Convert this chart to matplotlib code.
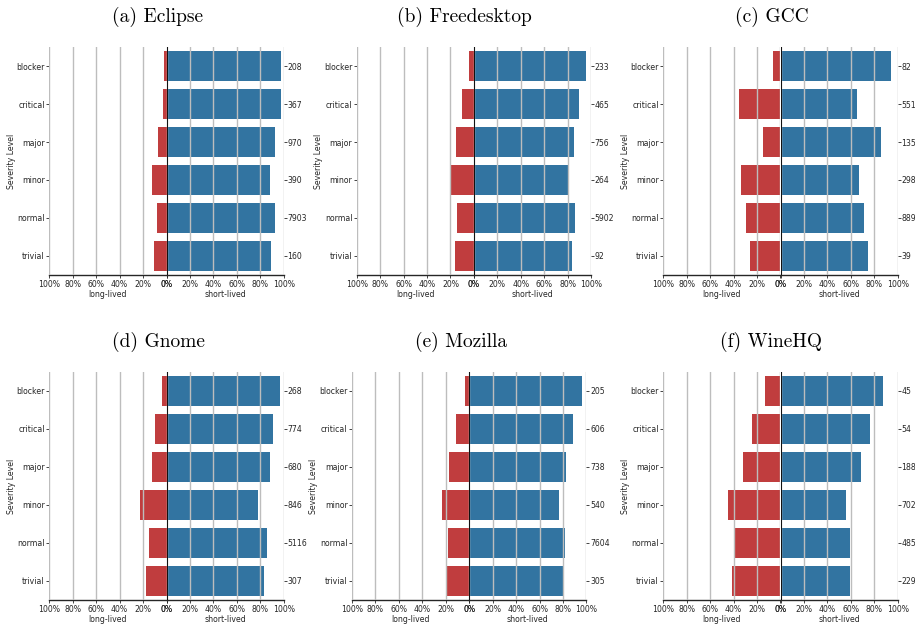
import matplotlib
matplotlib.use("Agg")
import matplotlib.pyplot as plt
from matplotlib.ticker import FuncFormatter

# Severity levels, top to bottom
levels = ["blocker", "critical", "major", "minor", "normal", "trivial"]

titles = ["(a) Eclipse", "(b) Freedesktop", "(c) GCC",
          "(d) Gnome", "(e) Mozilla", "(f) WineHQ"]

# Share of short-lived bugs per severity level (%)
short_eclipse = [98, 97.5, 92.5, 88.5, 92.5, 89]
short_freedesktop = [96, 90, 85, 80, 86.5, 84]
short_gcc = [94.5, 65.5, 86, 67, 71.5, 74.5]
short_gnome = [97, 91, 88.5, 78, 86, 83.5]
short_mozilla = [96, 88.5, 82.5, 76.5, 81.5, 80]
short_winehq = [87.5, 76.5, 69, 56, 59.5, 59.5]

# Share of long-lived bugs per severity level (%)
long_eclipse = [2, 2.8, 7, 12, 8, 11]
long_freedesktop = [4.5, 10.5, 15.5, 19.5, 14, 16.5]
long_gcc = [6.3, 35.3, 14.8, 33.5, 29.5, 26]
long_gnome = [3.7, 9.8, 12.2, 22.5, 14.8, 17.3]
long_mozilla = [3.7, 11.5, 17.5, 23.5, 18.5, 19.8]
long_winehq = [13, 24, 32, 44.5, 40, 41.5]

# Number of bugs per severity level
counts_eclipse = ["208", "367", "970", "390", "7903", "160"]
counts_freedesktop = ["233", "465", "756", "264", "5902", "92"]
counts_gcc = ["82", "551", "135", "298", "889", "39"]
counts_gnome = ["268", "774", "680", "846", "5116", "307"]
counts_mozilla = ["205", "606", "738", "540", "7604", "305"]
counts_winehq = ["45", "54", "188", "702", "485", "229"]

short_all = [short_eclipse, short_freedesktop, short_gcc,
             short_gnome, short_mozilla, short_winehq]
long_all = [long_eclipse, long_freedesktop, long_gcc,
            long_gnome, long_mozilla, long_winehq]
counts_all = [counts_eclipse, counts_freedesktop, counts_gcc,
              counts_gnome, counts_mozilla, counts_winehq]

BLUE = "#3274a1"
RED = "#c03d3e"
GRID = "#bdbdbd"
FS = 5.6
W, H = 915, 625

fig = plt.figure(figsize=(W / 100, H / 100), dpi=100)
plt.rcParams["font.family"] = ["DejaVu Sans"]

# panel geometry in pixels: (left edge, top edge)
panel_left = [49.3, 356.7, 663.3, 49.3, 352.0, 663.3]
panel_top = [47, 47, 47, 372, 372, 372]
panel_w = 234.4
panel_h = 228
title_x = [158, 464.7, 772, 158.3, 461, 771.5]
title_y = [17, 17, 17, 342, 342, 342]

pct = FuncFormatter(lambda v, p: f"{int(round(v))}%")
ticks = [0, 20, 40, 60, 80, 100]
ypos = list(range(len(levels)))


def style_axis(ax):
    for s in ("top", "left", "right"):
        ax.spines[s].set_visible(False)
    ax.spines["bottom"].set_color("#262626")
    ax.spines["bottom"].set_linewidth(1.0)
    ax.set_xticks(ticks)
    ax.xaxis.set_major_formatter(pct)
    ax.tick_params(axis="x", labelsize=FS, length=2, width=0.6, pad=1.5,
                   colors="#262626")
    ax.tick_params(axis="y", labelsize=FS, length=2, width=0.6, pad=1.2,
                   colors="#262626")
    for t in ticks:
        ax.axvline(t, color=GRID, lw=1.0, zorder=3)
    ax.set_ylim(len(levels) - 0.5, -0.5)
    ax.set_facecolor("none")


for i in range(6):
    left_px = panel_left[i]
    top_px = panel_top[i]
    half = panel_w / 2
    b = 1 - (top_px + panel_h) / H
    h = panel_h / H
    axl = fig.add_axes([left_px / W, b, half / W, h])
    axr = fig.add_axes([(left_px + half) / W, b, half / W, h])

    axl.barh(ypos, long_all[i], height=0.8, color=RED, zorder=2)
    axr.barh(ypos, short_all[i], height=0.8, color=BLUE, zorder=2)

    axl.set_xlim(100, 0)
    axr.set_xlim(0, 100)
    style_axis(axl)
    style_axis(axr)

    axl.set_yticks(ypos)
    axl.set_yticklabels(levels)
    axl.set_ylabel("Severity Level", fontsize=FS, color="#262626", labelpad=0.5)
    axl.set_xlabel("long-lived", fontsize=FS, color="#262626", labelpad=0.5)

    axr.set_yticks(ypos)
    axr.set_yticklabels(counts_all[i])
    axr.yaxis.set_ticks_position("right")
    axr.tick_params(axis="y", pad=0.6)
    axr.set_xlabel("short-lived", fontsize=FS, color="#262626", labelpad=0.5)
    axr.axvline(0, color="black", lw=1.3, zorder=5)

    fig.text(title_x[i] / W, 1 - title_y[i] / H, titles[i],
             fontsize=14, family="cmr10", ha="center", va="center")

fig.savefig("out.png", dpi=100, facecolor="white")
